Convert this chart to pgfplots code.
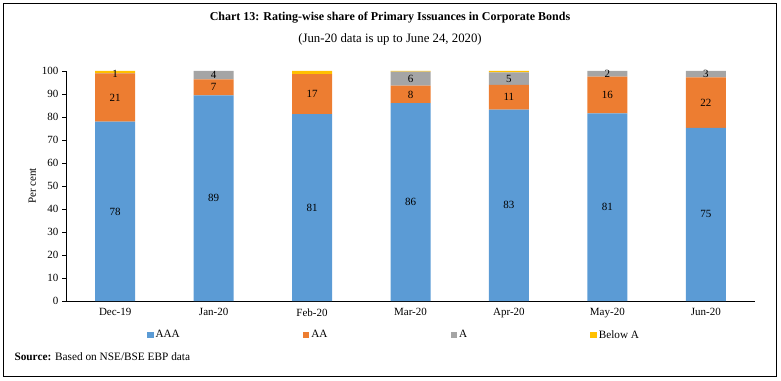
\documentclass[border=0pt]{standalone}
\usepackage{pgfplots}
\pgfplotsset{compat=1.18}
\usepackage{fontspec}
\setmainfont{Liberation Serif}
\definecolor{cAAA}{HTML}{5B9BD5}
\definecolor{cAA}{HTML}{ED7D31}
\definecolor{cA}{HTML}{A5A5A5}
\definecolor{cB}{HTML}{FFC000}
\begin{document}
\begin{tikzpicture}[x=1pt,y=1pt]
\useasboundingbox (0,0) rectangle (781,380);
\draw[line width=0.9pt] (3.5,4) rectangle (776.5,376.5);
\node[font=\fontsize{12}{13}\selectfont\bfseries] at (390,362.5) {Chart 13: Rating-wise share of Primary Issuances in Corporate Bonds};
\node[font=\fontsize{12.8}{14}\selectfont] at (390,340.5) {(Jun-20 data is up to June 24, 2020)};
\node[anchor=west,font=\fontsize{11.3}{13}\selectfont] at (11,23) {\textbf{Source:} Based on NSE/BSE EBP data};
\begin{axis}[
  at={(66pt,79pt)}, anchor=south west,
  scale only axis, width=689pt, height=230pt,
  ybar stacked, bar width=40pt,
  xmin=-0.5, xmax=6.5, ymin=0, ymax=100,
  axis x line*=bottom, axis y line*=left,
  axis line style={-, black, line width=0.5pt},
  xtick={0,...,6},
  xticklabels={Dec-19,Jan-20,Feb-20,Mar-20,Apr-20,May-20,Jun-20},
  x tick style={draw=none},
  extra x ticks={-0.5,0.5,1.5,2.5,3.5,4.5,5.5,6.5},
  extra x tick labels={},
  extra x tick style={tick style={draw=black, line width=0.5pt}, major tick length=4pt, tick align=outside},
  ytick={0,10,...,100},
  y tick style={black, line width=0.5pt}, major tick length=4pt, tick align=outside,
  tick label style={font=\fontsize{11}{13}\selectfont},
  /pgf/number format/assume math mode=true,
  ylabel={Per cent},
  ylabel style={font=\fontsize{11}{13}\selectfont, at={(axis description cs:-0.049,0.5)}, anchor=center},
  legend columns=4,
  legend style={draw=none, at={(axis description cs:0.476,-0.148)}, anchor=center,
    font=\fontsize{11.2}{13}\selectfont,
    /tikz/every even column/.append style={column sep=121pt},
    inner sep=0pt},
  legend image code/.code={\fill[#1,draw=none] (0pt,-3.3pt) rectangle (6.6pt,3.3pt);},
]
\addplot[fill=cAAA, draw=none] coordinates {(0,78) (1,89.4) (2,81.3) (3,86) (4,83.2) (5,81.6) (6,75.3)};
\addplot[fill=cAA, draw=none] coordinates {(0,21) (1,7) (2,17.3) (3,7.6) (4,10.8) (5,16) (6,21.9)};
\addplot[fill=cA, draw=none] coordinates {(0,0.1) (1,3.6) (2,0) (3,6.1) (4,5.4) (5,2.4) (6,2.8)};
\addplot[fill=cB, draw=none] coordinates {(0,0.9) (1,0) (2,1.4) (3,0.3) (4,0.6) (5,0) (6,0)};
\legend{AAA,AA,A,Below A}
\end{axis}
\begin{axis}[
  at={(66pt,79pt)}, anchor=south west,
  scale only axis, width=689pt, height=230pt,
  xmin=-0.5, xmax=6.5, ymin=0, ymax=100,
  axis lines=none, ticks=none,
  nodes near coords, point meta=explicit symbolic,
  every node near coord/.append style={anchor=center, font=\fontsize{11}{13}\selectfont, inner sep=0pt},
]
\addplot[draw=none, mark=none, nodes near coords] table[meta=lab] {
x y lab
0 38.9 78
0 88.4 21
0 98.8 1
1 44.7 89
1 92.9 7
1 98.2 4
2 40.65 81
2 89.95 17
3 43 86
3 89.8 8
3 96.65 6
4 41.6 83
4 88.6 11
4 96.7 5
5 40.8 81
5 89.6 16
5 98.8 2
6 37.65 75
6 86.25 22
6 98.6 3
};
\end{axis}
\end{tikzpicture}
\end{document}
